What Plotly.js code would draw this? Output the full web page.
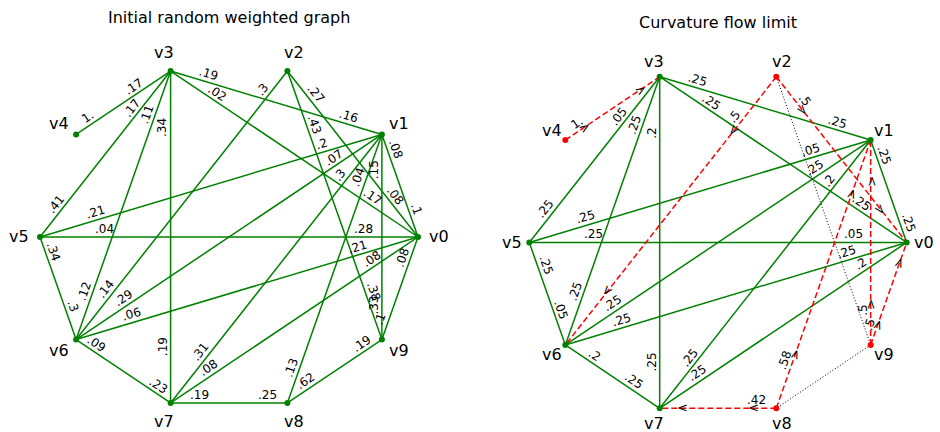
<!DOCTYPE html>
<html><head><meta charset="utf-8">
<script src="https://cdn.plot.ly/plotly-3.0.1.min.js"></script>
<style>html,body{margin:0;padding:0;background:#fff}</style>
</head><body><div id="chart" style="width:940px;height:432px"></div>
<script>
// ---------- data ----------
const nodeNames = ['v0','v1','v2','v3','v4','v5','v6','v7','v8','v9'];
const panelTitles = ['Initial random weighted graph', 'Curvature flow limit'];

// Left graph: undirected edges, weight shown at each end
const leftEdgeU   = [3,3,3,3,3,3,2,2,2,1,1,1,1,1,1,0,0,0,0,5,6,7,8];
const leftEdgeV   = [4,5,6,7,1,0,6,0,9,0,5,6,7,8,9,5,6,7,9,6,7,8,9];
const leftWeightU = [.17,.17,.11,.34,.19,.02,.3,.27,.43,.08,.2,.07,.3,.04,.15,.28,.21,.08,.08,.34,.09,.19,.62];
const leftWeightV = [1,.41,.12,.19,.16,.17,.14,.08,.38,.1,.21,.29,.31,.13,.33,.04,.06,.08,.1,.3,.23,.25,.19];

// Right graph: remaining (green) edges
const rightEdgeU   = [3,3,3,3,3,1,1,1,1,0,0,0,6,6];
const rightEdgeV   = [5,6,7,1,0,0,5,6,7,5,6,7,5,7];
const rightWeightU = [.05,.25,.2,.25,.25,.25,.05,.25,.2,.05,.25,.2,.05,.2];
const rightWeightV = [.25,.25,.25,.25,.25,.25,.25,.25,.25,.25,.25,.25,.25,.25];
// Right graph: flow edges (red dashed) from removed node to kept node
const flowSource  = [4,2,2,9,9,8,8];
const flowTarget  = [3,6,0,1,0,7,1];
const flowWeight  = [1,.5,.5,.5,.5,.42,.58];
// Right graph: dropped edges (dotted)
const droppedU = [2,9];
const droppedV = [9,8];
const removedNodes = [2,4,8,9];

// ---------- layout parameters ----------
const W = 940, H = 432;
const panels = [
  {cx:229, cy:237,   rx:189,   ry:174.5, xr:1.15, yr:1.1,  titleY:17, lab:1.11},
  {cx:718, cy:242.5, rx:188.7, ry:174.3, xr:1.15, yr:1.08, titleY:22, lab:1.09}
];
const defaultT = 0.17;
const labelT = [
  {'3-4':.35,'3-5':.25,'2-6':.09,'2-9':.21,'0-1':.25,'0-9':.23,'0-2':.22,'8-9':.24,'8-1':.12,'7-8':.25,'6-5':.3,'0-3':.2,'0-5':.145,'1-6':.145},
  {'3-5':.27,'5-6':.25,'6-5':.32,'6-7':.26,'7-6':.32,'3-0':.19,'6-3':.19,'3-6':.19,'0-3':.2,'7-3':.14,'0-5':.14}
];
const GREEN = '#008000', RED = '#ff0000';
const FONT = 'DejaVu Sans';

const pos = nodeNames.map((_, i) => [Math.cos(2*Math.PI*i/10), Math.sin(2*Math.PI*i/10)]);
function fmt(w){ return w.toFixed(2).replace(/0+$/,'').replace(/^0/,''); }

const traces = [];
const annotations = [];
const layout = {
  width: W, height: H, margin:{l:0,r:0,t:0,b:0},
  paper_bgcolor:'#fff', plot_bgcolor:'#fff', showlegend:false,
  annotations: annotations
};

function lineTrace(us, vs, xa, ya, line){
  const x=[], y=[];
  us.forEach((u,k)=>{ const v=vs[k]; x.push(pos[u][0],pos[v][0],null); y.push(pos[u][1],pos[v][1],null); });
  return {type:'scatter', mode:'lines', x, y, xaxis:xa, yaxis:ya, line, hoverinfo:'skip', cliponaxis:false};
}

panels.forEach((p, pi) => {
  const sfx = pi === 0 ? '' : '2';
  const xa = 'x'+sfx, ya = 'y'+sfx;
  layout['xaxis'+sfx] = {domain:[(p.cx-p.xr*p.rx)/W, (p.cx+p.xr*p.rx)/W], range:[-p.xr,p.xr], visible:false, fixedrange:true};
  layout['yaxis'+sfx] = {domain:[(H-(p.cy+p.yr*p.ry))/H, (H-(p.cy-p.yr*p.ry))/H], range:[-p.yr,p.yr], visible:false, fixedrange:true};

  function angle(u, v){ // screen angle, clockwise degrees
    const dx = (pos[v][0]-pos[u][0])*p.rx, dy = -(pos[v][1]-pos[u][1])*p.ry;
    return Math.atan2(dy, dx)*180/Math.PI;
  }
  function edgeLabel(u, v, w){
    const t = (labelT[pi][u+'-'+v] !== undefined) ? labelT[pi][u+'-'+v] : defaultT;
    let th = angle(u, v);
    if (th > 89) th -= 180;
    if (th < -91) th += 180;
    const r = th*Math.PI/180, off = 8;
    annotations.push({xref:xa, yref:ya, x:pos[u][0]+t*(pos[v][0]-pos[u][0]), y:pos[u][1]+t*(pos[v][1]-pos[u][1]),
      text:fmt(w), showarrow:false, textangle:th, xshift:off*Math.sin(r), yshift:off*Math.cos(r),
      font:{family:FONT, size:12, color:'#000'}});
  }
  function chevron(u, v, t){
    annotations.push({xref:xa, yref:ya, x:pos[u][0]+t*(pos[v][0]-pos[u][0]), y:pos[u][1]+t*(pos[v][1]-pos[u][1]),
      text:'>', showarrow:false, textangle:angle(u, v), font:{family:FONT, size:13, color:'#000'}});
  }

  if (pi === 0) {
    traces.push(lineTrace(leftEdgeU, leftEdgeV, xa, ya, {color:GREEN, width:1.5}));
    leftEdgeU.forEach((u,k)=>{ edgeLabel(u, leftEdgeV[k], leftWeightU[k]); edgeLabel(leftEdgeV[k], u, leftWeightV[k]); });
  } else {
    traces.push(lineTrace(rightEdgeU, rightEdgeV, xa, ya, {color:GREEN, width:1.5}));
    traces.push(lineTrace(droppedU, droppedV, xa, ya, {color:'#000', width:1, dash:'1px,2px'}));
    traces.push(lineTrace(flowSource, flowTarget, xa, ya, {color:RED, width:1.5, dash:'6px,3px'}));
    rightEdgeU.forEach((u,k)=>{ edgeLabel(u, rightEdgeV[k], rightWeightU[k]); edgeLabel(rightEdgeV[k], u, rightWeightV[k]); });
    flowSource.forEach((s,k)=>{ edgeLabel(s, flowTarget[k], flowWeight[k]); chevron(s, flowTarget[k], 0.2); chevron(s, flowTarget[k], 0.8); });
  }
  const colors = nodeNames.map((_,i)=> (pi===1 && removedNodes.includes(i)) ? RED : GREEN);
  traces.push({type:'scatter', mode:'markers', x:pos.map(q=>q[0]), y:pos.map(q=>q[1]), xaxis:xa, yaxis:ya,
    marker:{size:6, color:colors}, hoverinfo:'skip', cliponaxis:false});
  nodeNames.forEach((n,i)=>{
    annotations.push({xref:xa, yref:ya, x:p.lab*pos[i][0], y:p.lab*pos[i][1], text:n, showarrow:false,
      borderpad:0, font:{family:FONT, size:16, color:'#000'}});
  });
  annotations.push({xref:'paper', yref:'paper', x:p.cx/W, y:1-p.titleY/H, text:panelTitles[pi], showarrow:false,
    xanchor:'center', yanchor:'middle', font:{family:FONT, size:16, color:'#000'}});
});

Plotly.newPlot('chart', traces, layout, {staticPlot:true, displayModeBar:false});
</script></body></html>
